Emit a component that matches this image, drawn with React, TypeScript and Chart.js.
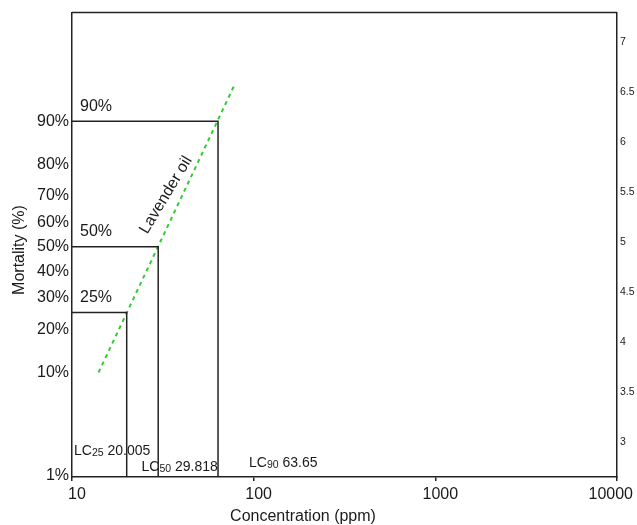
import React, { useEffect, useRef } from 'react';
import { Chart, registerables } from 'chart.js';

Chart.register(...registerables);

// ---- data ----
const concentrationTicks = [10, 100, 1000, 10000];
const concentrationTickLabels = ['10', '100', '1000', '10000'];
const mortalityTickLabels = ['1%', '10%', '20%', '30%', '40%', '50%', '60%', '70%', '80%', '90%'];
const mortalityProbits = [2.67, 3.72, 4.16, 4.48, 4.75, 5.0, 5.25, 5.52, 5.84, 6.28];
const probitTicks = [3, 3.5, 4, 4.5, 5, 5.5, 6, 6.5, 7];
const lcNames = ['25', '50', '90'];
const lcValues = [20.005, 29.818, 63.65];
const lcValueLabels = ['20.005', '29.818', '63.65'];
const lcPercentLabels = ['25%', '50%', '90%'];
const lcProbits = [4.33, 5.0, 6.28];
const fitConcentrations = [14, 78];
const fitProbits = [3.72, 6.64];
const seriesName = 'Lavender oil';

// ---- axis ranges ----
const Y_MIN = 2.655;
const Y_MAX = 7.386;
const Y2_MIN = 2.65;
const Y2_MAX = 7.3;

// ---- styles ----
const FONT = "'Liberation Sans', Arial, Helvetica, sans-serif";
const TEXT = '#1a1a1a';
const LINE = '#222222';
const GREEN = '#33cc33';

// pixel placement of the LC text labels (relative to chart area / canvas)
const lcLabelPos = [
  { x: 74, baseline: 455 },
  { x: 141.5, baseline: 471 },
  { x: 249, baseline: 467 },
];

const annotate = {
  id: 'annotate',
  afterDraw(chart: any) {
    const { ctx, chartArea: a, scales } = chart;
    const xs = scales.x;
    const ys = scales.y;
    ctx.save();
    // top frame line
    ctx.strokeStyle = LINE;
    ctx.lineWidth = 1.5;
    ctx.beginPath();
    ctx.moveTo(a.left, a.top);
    ctx.lineTo(a.right, a.top);
    ctx.stroke();

    ctx.fillStyle = TEXT;
    // x tick labels
    ctx.font = `16px ${FONT}`;
    ctx.textAlign = 'center';
    ctx.textBaseline = 'middle';
    concentrationTicks.forEach((v, i) => {
      const label = concentrationTickLabels[i];
      const w = ctx.measureText(label).width;
      let cx = xs.getPixelForValue(v) + 5;
      cx = Math.min(cx, chart.width - 4 - w / 2);
      ctx.fillText(label, cx, a.bottom + 18);
    });

    // axis titles
    ctx.fillText('Concentration (ppm)', 303, 517);
    ctx.save();
    ctx.translate(20, 250);
    ctx.rotate(-Math.PI / 2);
    ctx.fillText('Mortality (%)', 0, 0);
    ctx.restore();

    // percent labels above horizontal lines
    ctx.textAlign = 'left';
    lcPercentLabels.forEach((l, i) => {
      ctx.fillText(l, a.left + 8, ys.getPixelForValue(lcProbits[i]) - 15);
    });

    // LC labels with subscripts
    ctx.textBaseline = 'alphabetic';
    lcNames.forEach((n, i) => {
      const p = lcLabelPos[i];
      ctx.font = `14px ${FONT}`;
      ctx.fillText('LC', p.x, p.baseline);
      let x = p.x + ctx.measureText('LC').width;
      ctx.font = `10.5px ${FONT}`;
      ctx.fillText(n, x, p.baseline + 1);
      x += ctx.measureText(n).width;
      ctx.font = `14px ${FONT}`;
      ctx.fillText(' ' + lcValueLabels[i], x, p.baseline);
    });

    // series label along fitted line
    ctx.font = `16px ${FONT}`;
    ctx.textAlign = 'center';
    ctx.textBaseline = 'middle';
    ctx.save();
    ctx.translate(166, 195);
    ctx.rotate((-59 * Math.PI) / 180);
    ctx.fillText(seriesName, 0, 0);
    ctx.restore();

    ctx.restore();
  },
};

export default function App() {
  const ref = useRef<HTMLCanvasElement | null>(null);

  useEffect(() => {
    if (!ref.current) return;
    const lcDatasets = lcValues.map((v, i) => ({
      label: 'LC' + lcNames[i],
      data: [
        { x: 10, y: lcProbits[i] },
        { x: v, y: lcProbits[i] },
        { x: v, y: Y_MIN },
      ],
      borderColor: LINE,
      borderWidth: 1.5,
      pointRadius: 0,
      fill: false,
      tension: 0,
    }));
    const fitDataset = {
      label: seriesName,
      data: fitConcentrations.map((x, i) => ({ x, y: fitProbits[i] })),
      borderColor: GREEN,
      borderWidth: 2,
      borderDash: [4, 4],
      pointRadius: 0,
      fill: false,
      tension: 0,
    };

    const chart = new Chart(ref.current, {
      type: 'line',
      data: { datasets: [...lcDatasets, fitDataset] as any },
      plugins: [annotate],
      options: {
        animation: false,
        responsive: false,
        layout: { padding: { top: 12, left: 0, right: 0, bottom: 0 } },
        plugins: { legend: { display: false }, tooltip: { enabled: false } },
        scales: {
          x: {
            type: 'logarithmic',
            min: 10,
            max: 10000,
            afterBuildTicks: (s: any) => {
              s.ticks = concentrationTicks.map((v) => ({ value: v }));
            },
            afterFit: (s: any) => {
              s.height = 48;
            },
            ticks: { display: false },
            grid: { drawOnChartArea: false, drawTicks: true, tickLength: 4, color: LINE, lineWidth: 1.5 },
            border: { display: true, color: LINE, width: 1.5 },
          },
          y: {
            type: 'linear',
            position: 'left',
            min: Y_MIN,
            max: Y_MAX,
            afterBuildTicks: (s: any) => {
              s.ticks = mortalityProbits.map((v) => ({ value: v }));
            },
            afterFit: (s: any) => {
              s.width = 72;
            },
            ticks: {
              padding: 3,
              color: TEXT,
              font: { family: FONT, size: 16 },
              callback: (v: any) => {
                const idx = mortalityProbits.indexOf(Number(v));
                return idx >= 0 ? mortalityTickLabels[idx] : '';
              },
            },
            grid: { display: false, drawTicks: false },
            border: { display: true, color: LINE, width: 1.5 },
          },
          y2: {
            type: 'linear',
            position: 'right',
            min: Y2_MIN,
            max: Y2_MAX,
            afterBuildTicks: (s: any) => {
              s.ticks = probitTicks.map((v) => ({ value: v }));
            },
            afterFit: (s: any) => {
              s.width = 20;
            },
            ticks: {
              padding: 3,
              color: TEXT,
              font: { family: FONT, size: 10.5 },
              callback: (v: any) => String(v),
            },
            grid: { display: false, drawTicks: false },
            border: { display: true, color: LINE, width: 1.5 },
          },
        },
      } as any,
    });
    return () => chart.destroy();
  }, []);

  return (
    <div style={{ position: 'absolute', left: 0, top: 0, width: 637, height: 525, background: '#fff' }}>
      <canvas ref={ref} width={637} height={525} style={{ display: 'block' }} />
    </div>
  );
}
